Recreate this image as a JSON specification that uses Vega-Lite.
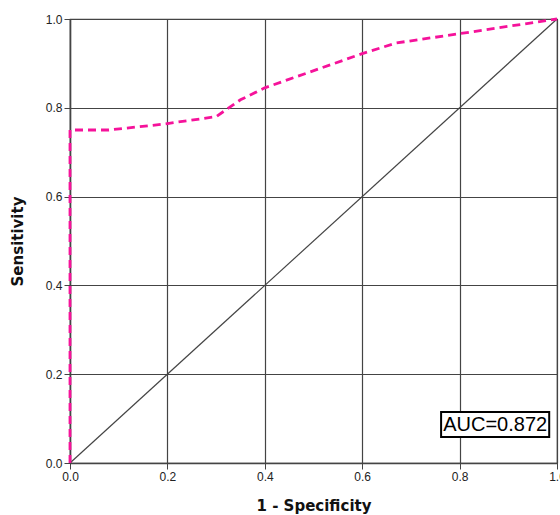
{
  "$schema": "https://vega.github.io/schema/vega-lite/v6.json",
  "autosize": {"type": "none"},
  "width": 487,
  "height": 444,
  "padding": {"left": 70, "top": 19, "right": 3, "bottom": 52},
  "background": "white",
  "config": {
    "view": {"stroke": "#444", "strokeWidth": 1.2},
    "font": "Liberation Sans",
    "axis": {
      "grid": true,
      "gridColor": "#444",
      "gridWidth": 1.2,
      "gridOpacity": 1,
      "domainColor": "#444",
      "domainWidth": 1.5,
      "tickColor": "#444",
      "tickSize": 6,
      "labelFlush": false,
      "labelFont": "Liberation Sans",
      "labelFontSize": 12,
      "labelColor": "#222",
      "titleFont": "DejaVu Sans",
      "titleFontSize": 15,
      "titleFontWeight": "bold",
      "titleColor": "#111"
    }
  },
  "datasets": {
    "roc": [
      {"fpr": 0.0, "tpr": 0.0},
      {"fpr": 0.0, "tpr": 0.75},
      {"fpr": 0.08, "tpr": 0.75},
      {"fpr": 0.19, "tpr": 0.763},
      {"fpr": 0.3, "tpr": 0.78},
      {"fpr": 0.35, "tpr": 0.818},
      {"fpr": 0.4, "tpr": 0.845},
      {"fpr": 0.6, "tpr": 0.922},
      {"fpr": 0.67, "tpr": 0.946},
      {"fpr": 0.8, "tpr": 0.967},
      {"fpr": 1.0, "tpr": 1.0}
    ],
    "diag": [
      {"fpr": 0, "tpr": 0},
      {"fpr": 1, "tpr": 1}
    ],
    "auc": [
      {"x1": 0.762, "x2": 0.984, "y1": 0.0586, "y2": 0.115, "xc": 0.873, "yc": 0.087, "label": "AUC=0.872"}
    ]
  },
  "layer": [
    {
      "data": {"name": "diag"},
      "mark": {"type": "line", "color": "#444", "strokeWidth": 1.2},
      "encoding": {
        "x": {
          "field": "fpr", "type": "quantitative",
          "scale": {"domain": [0, 1], "nice": false},
          "axis": {"values": [0, 0.2, 0.4, 0.6, 0.8, 1.0], "format": ".1f", "title": "1 - Specificity", "titlePadding": 16}
        },
        "y": {
          "field": "tpr", "type": "quantitative",
          "scale": {"domain": [0, 1], "nice": false},
          "axis": {"values": [0, 0.2, 0.4, 0.6, 0.8, 1.0], "format": ".1f", "title": "Sensitivity", "titlePadding": 20}
        }
      }
    },
    {
      "data": {"name": "roc"},
      "mark": {"type": "line", "color": "#f5129a", "strokeWidth": 2.8, "strokeDash": [8, 5]},
      "encoding": {
        "x": {"field": "fpr", "type": "quantitative"},
        "y": {"field": "tpr", "type": "quantitative"},
        "order": {"field": "fpr", "type": "quantitative"}
      }
    },
    {
      "data": {"name": "auc"},
      "mark": {"type": "rect", "fill": "white", "stroke": "black", "strokeWidth": 2},
      "encoding": {
        "x": {"field": "x1", "type": "quantitative"},
        "x2": {"field": "x2"},
        "y": {"field": "y1", "type": "quantitative"},
        "y2": {"field": "y2"}
      }
    },
    {
      "data": {"name": "auc"},
      "mark": {"type": "text", "fontSize": 20, "font": "Liberation Sans", "color": "black", "align": "center", "baseline": "middle", "dy": 1},
      "encoding": {
        "x": {"field": "xc", "type": "quantitative"},
        "y": {"field": "yc", "type": "quantitative"},
        "text": {"field": "label"}
      }
    }
  ]
}
